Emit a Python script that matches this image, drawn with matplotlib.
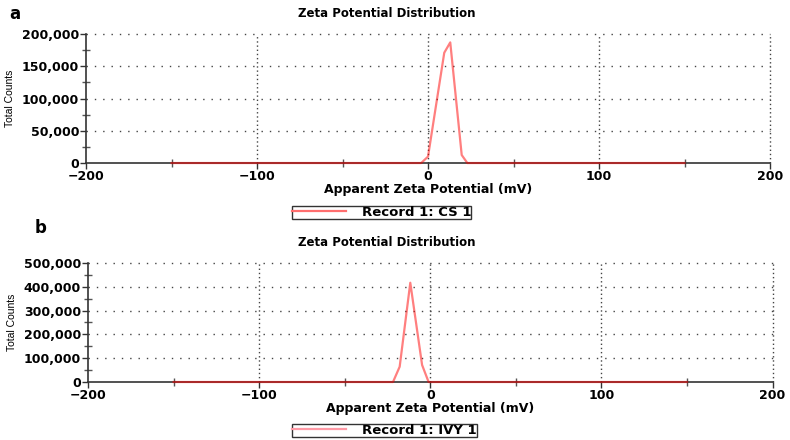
import numpy as np
import matplotlib
matplotlib.use("Agg")
import matplotlib.pyplot as plt
from matplotlib.ticker import FuncFormatter, MultipleLocator

# datos (mV, cuentas)
zeta_a = [-150, -4, 0, 9.5, 13, 19.7, 23, 150]
counts_a = [0, 0, 10000, 171000, 187000, 12400, 0, 0]
zeta_b = [-150, -21.8, -17.9, -11.7, -4.8, -1, 150]
counts_b = [0, 0, 64300, 417000, 71400, 0, 0]

labels = ["a", "b"]
records = ["Record 1: CS 1", "Record 1: IVY 1"]
y_max = [200000, 500000]
y_major = [50000, 100000]
y_minor = [25000, 50000]

plt.rcParams['font.family'] = ['DejaVu Sans']

fig = plt.figure(figsize=(7.9, 4.4), dpi=100)
posiciones = [[0.1089, 0.6295, 0.8658, 0.2932],
              [0.1114, 0.1318, 0.8666, 0.2705]]
datos = [(zeta_a, counts_a), (zeta_b, counts_b)]
leg_y = [1 - 206 / 440, 1 - 424 / 440]
lab_xy = [(0.012, 0.988), (0.044, 0.503)]
tit_y = [0.985, 0.463]
leg_col = ['#ff6f6f', '#ff9aa6']

for i in range(2):
    ax = fig.add_axes(posiciones[i])
    x, y = datos[i]
    linea, = ax.plot(x, y, color='red', alpha=0.5, lw=1.6, zorder=5, clip_on=False)
    ax.set_xlim(-200, 200)
    ax.set_ylim(0, y_max[i])
    ax.xaxis.set_major_locator(MultipleLocator(100))
    ax.xaxis.set_minor_locator(MultipleLocator(50))
    ax.yaxis.set_major_locator(MultipleLocator(y_major[i]))
    ax.yaxis.set_minor_locator(MultipleLocator(y_minor[i]))
    ax.yaxis.set_major_formatter(FuncFormatter(lambda v, p: f"{int(v):,}"))
    ax.xaxis.set_major_formatter(FuncFormatter(lambda v, p: f"{int(v)}".replace('-', '\u2212')))
    for s in ['top', 'right']:
        ax.spines[s].set_visible(False)
    for s in ['left', 'bottom']:
        ax.spines[s].set_color('#333333')
        ax.spines[s].set_linewidth(1.2)
    ax.tick_params(which='major', direction='out', length=4, width=1, color='#333333',
                   labelsize=9, pad=1)
    ax.tick_params(which='minor', direction='inout', length=6, width=1, color='#555555')
    for t in ax.get_xticklabels() + ax.get_yticklabels():
        t.set_fontweight('bold')
    # rejilla punteada
    for v in ax.get_yticks():
        if 0 < v <= y_max[i]:
            ax.axhline(v, color='#444444', lw=1, ls=(0, (1, 5)), zorder=1, clip_on=False)
    for v in [-100, 0, 100, 200]:
        ax.axvline(v, color='#444444', lw=1, ls=(0, (1, 2)), zorder=1, clip_on=False)
    ax.set_xlabel('Apparent Zeta Potential (mV)', fontsize=9, fontweight='bold', labelpad=0)
    ax.set_ylabel('Total Counts', fontsize=7.5, labelpad=5, family=['Liberation Sans'])
    fig.text(0.49, tit_y[i], 'Zeta Potential Distribution', fontsize=8.5,
             fontweight='bold', ha='center', va='top')
    fig.text(lab_xy[i][0], lab_xy[i][1], labels[i], fontsize=12, fontweight='bold',
             ha='left', va='top')
    leg = fig.legend([linea], [records[i]], loc='upper left',
                     bbox_to_anchor=(292 / 790, leg_y[i]), fontsize=9.5, frameon=True,
                     fancybox=False, edgecolor='black', handlelength=4.1,
                     borderpad=0.0, borderaxespad=0, handletextpad=1.2)
    leg.get_frame().set_linewidth(1)
    leg.get_lines()[0].set_color(leg_col[i])
    leg.get_lines()[0].set_alpha(1)
    for t in leg.get_texts():
        t.set_fontweight('bold')

plt.savefig('out.png', dpi=100)
